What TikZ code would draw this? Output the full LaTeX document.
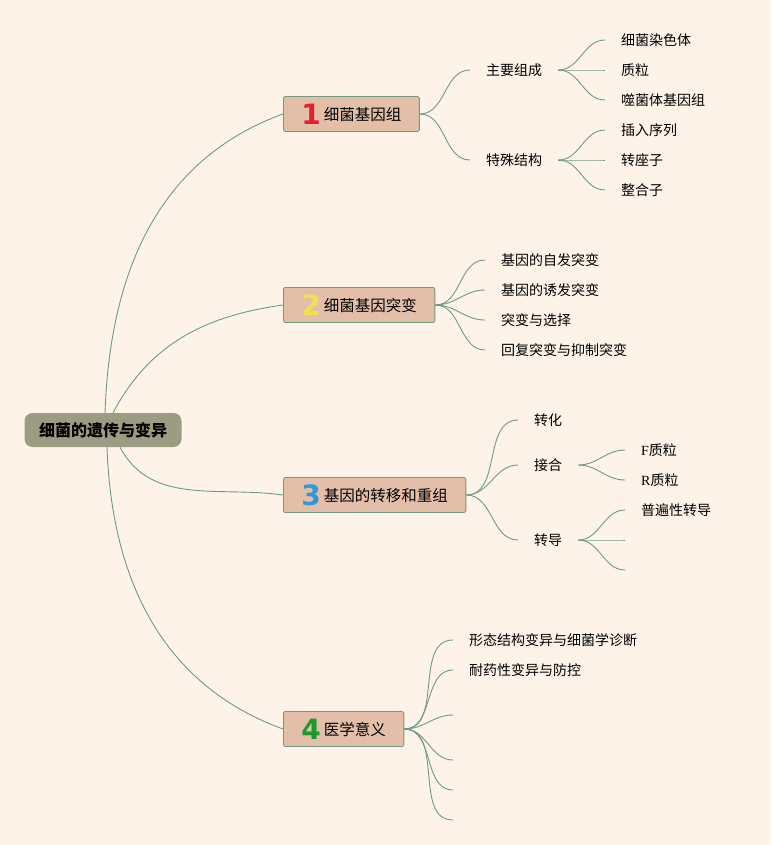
\documentclass[tikz,border=0pt]{standalone}
\usepackage{fontspec}
\setmainfont{Noto Sans CJK SC}
\newfontfamily\numfont{DejaVu Sans}
\newfontfamily\serifl{Liberation Serif}
\definecolor{bgcol}{HTML}{FEF3E9}
\definecolor{rootfill}{HTML}{9B9C82}
\definecolor{boxfill}{HTML}{E3BEA8}
\definecolor{boxline}{HTML}{6F9A84}
\definecolor{linkcol}{HTML}{6E9A88}
\definecolor{numred}{HTML}{E3202F}
\definecolor{numyellow}{HTML}{F2E14C}
\definecolor{numblue}{HTML}{2D9BDB}
\definecolor{numgreen}{HTML}{1A9A2A}
\newcommand{\bignum}[2]{\raisebox{-4pt}{\numfont\bfseries\fontsize{28}{28}\selectfont\textcolor{#1}{#2}}\hspace{3pt}}

\begin{document}
\begin{tikzpicture}[x=1pt, y=-1pt,
  root/.style={shape=rectangle, rounded corners=8pt, fill=rootfill, minimum width=157pt, minimum height=34pt, font=\fontsize{16}{18}\selectfont\bfseries},
  topic/.style={shape=rectangle, draw=boxline, line width=0.8pt, fill=boxfill, rounded corners=2pt, anchor=west, minimum height=35pt, inner xsep=18pt, inner ysep=2pt, font=\fontsize{15.5}{18}\selectfont},
  sub/.style={anchor=west, inner xsep=16pt, inner ysep=2pt, font=\fontsize{14}{16}\selectfont},
  link/.style={draw=linkcol, line width=0.9pt}]
\fill [bgcol] (0,0) rectangle (771,845);
\useasboundingbox (0,0) rectangle (771,845);

\node [root] (R) at (103,430) {细菌的遗传与变异};

\node [topic] (N1) at (283,114) {\bignum{numred}{1}细菌基因组};
\node [topic] (N2) at (283,305) {\bignum{numyellow}{2}细菌基因突变};
\node [topic] (N3) at (283,495) {\bignum{numblue}{3}基因的转移和重组};
\node [topic] (N4) at (283,729) {\bignum{numgreen}{4}医学意义};

\draw [link] ([xshift=2pt]R.north) to [out=88, in=200] (N1.west);
\draw [link] ([xshift=10pt]R.north) to [out=62, in=188] (N2.west);
\draw [link] ([xshift=17pt]R.south) to [out=-62, in=172] (N3.west);
\draw [link] ([xshift=4pt]R.south) to [out=-88, in=160] (N4.west);

\node [sub] (S11) at (470,70) {主要组成};
\node [sub] (S12) at (470,160) {特殊结构};
\draw [link] (N1.east) to [out=0, in=180] (S11.west);
\draw [link] (N1.east) to [out=0, in=180] (S12.west);

\node [sub] (L111) at (605,40) {细菌染色体};
\node [sub] (L112) at (605,70) {质粒};
\node [sub] (L113) at (605,100) {噬菌体基因组};
\draw [link] (S11.east) to [out=0, in=180] (L111.west);
\draw [link] (S11.east) to [out=0, in=180] (L112.west);
\draw [link] (S11.east) to [out=0, in=180] (L113.west);

\node [sub] (L121) at (605,130) {插入序列};
\node [sub] (L122) at (605,160) {转座子};
\node [sub] (L123) at (605,190) {整合子};
\draw [link] (S12.east) to [out=0, in=180] (L121.west);
\draw [link] (S12.east) to [out=0, in=180] (L122.west);
\draw [link] (S12.east) to [out=0, in=180] (L123.west);

\node [sub] (L21) at (485,260) {基因的自发突变};
\node [sub] (L22) at (485,290) {基因的诱发突变};
\node [sub] (L23) at (485,320) {突变与选择};
\node [sub] (L24) at (485,350) {回复突变与抑制突变};
\draw [link] (N2.east) to [out=0, in=180] (L21.west);
\draw [link] (N2.east) to [out=0, in=180] (L22.west);
\draw [link] (N2.east) to [out=0, in=180] (L23.west);
\draw [link] (N2.east) to [out=0, in=180] (L24.west);

\node [sub] (S31) at (518,420) {转化};
\node [sub] (S32) at (518,465) {接合};
\node [sub] (S33) at (518,540) {转导};
\draw [link] (N3.east) to [out=0, in=180] (S31.west);
\draw [link] (N3.east) to [out=0, in=180] (S32.west);
\draw [link] (N3.east) to [out=0, in=180] (S33.west);

\node [sub] (L321) at (625,450) {{\serifl F}质粒};
\node [sub] (L322) at (625,480) {{\serifl R}质粒};
\draw [link] (S32.east) to [out=0, in=180] (L321.west);
\draw [link] (S32.east) to [out=0, in=180] (L322.west);

\node [sub] (L331) at (625,510) {普遍性转导};
\coordinate (L332) at (625,540);
\coordinate (L333) at (625,570);
\draw [link] (S33.east) to [out=0, in=180] (L331.west);
\draw [link] (S33.east) to [out=0, in=180] (L332);
\draw [link] (S33.east) to [out=0, in=180] (L333);

\node [sub] (L41) at (453,640) {形态结构变异与细菌学诊断};
\node [sub] (L42) at (453,670) {耐药性变异与防控};
\coordinate (L43) at (453,715);
\coordinate (L44) at (453,760);
\coordinate (L45) at (453,790);
\coordinate (L46) at (453,820);
\draw [link] (N4.east) to [out=0, in=180] (L41.west);
\draw [link] (N4.east) to [out=0, in=180] (L42.west);
\draw [link] (N4.east) to [out=0, in=180] (L43);
\draw [link] (N4.east) to [out=0, in=180] (L44);
\draw [link] (N4.east) to [out=0, in=180] (L45);
\draw [link] (N4.east) to [out=0, in=180] (L46);
\end{tikzpicture}
\end{document}
